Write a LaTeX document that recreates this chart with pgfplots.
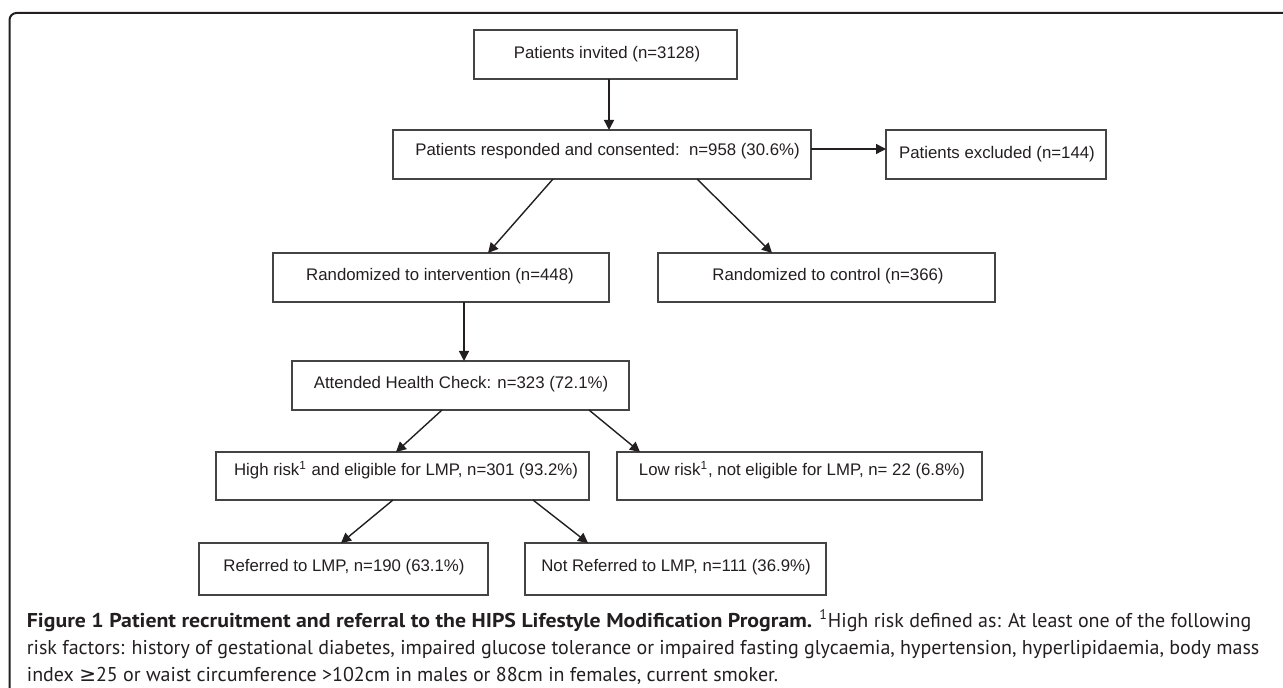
\documentclass[border=0pt]{standalone}
\usepackage{fontspec}
\usepackage{pgfplots}
\pgfplotsset{compat=1.18}
\usetikzlibrary{arrows.meta}
\setmainfont{Liberation Sans}
\newfontfamily\capfont[BoldFeatures={FakeStretch=1.09}]{PT Sans}
\newfontfamily\symfont{DejaVu Sans}
\definecolor{ink}{HTML}{231F20}
\definecolor{boxc}{HTML}{444444}
\tikzset{
  bx/.style={draw=boxc, line width=0.75pt, mark=none, line join=miter},
  arr/.style={draw=ink, line width=0.7pt, mark=none, -{Triangle[length=5pt,width=5pt]}},
  bt/.style={font=\fontsize{8.4pt}{10pt}\selectfont, text=ink, inner sep=0pt},
  ct/.style={font=\capfont\fontsize{10pt}{13pt}\selectfont, text=ink, inner sep=0pt, anchor=base west},
}
\begin{document}
\begin{tikzpicture}
\begin{axis}[
  width=641.5pt, height=344pt, scale only axis, hide axis,
  xmin=0, xmax=1283, ymin=0, ymax=688, y dir=reverse,
  clip=false, at={(0,0)}, anchor=south west,
]
\coordinate (BL) at (axis cs:0,688);
\coordinate (TR) at (axis cs:1283,0);
% outer frame
\draw[ink, line width=1pt, rounded corners=3.5pt] (axis cs:9.5,720) -- (axis cs:9.5,13) -- (axis cs:1300,13);
% boxes
\addplot[bx] coordinates {(474,30) (737,30) (737,79) (474,79)} -- cycle;
\addplot[bx] coordinates {(393,130) (811,130) (811,179) (393,179)} -- cycle;
\addplot[bx] coordinates {(886,130) (1106,130) (1106,179) (886,179)} -- cycle;
\addplot[bx] coordinates {(273,253) (609,253) (609,302) (273,302)} -- cycle;
\addplot[bx] coordinates {(658,253) (995,253) (995,302) (658,302)} -- cycle;
\addplot[bx] coordinates {(292,361) (629,361) (629,410) (292,410)} -- cycle;
\addplot[bx] coordinates {(216,452) (589,452) (589,500) (216,500)} -- cycle;
\addplot[bx] coordinates {(617,452) (982,452) (982,500) (617,500)} -- cycle;
\addplot[bx] coordinates {(199,543) (488,543) (488,595) (199,595)} -- cycle;
\addplot[bx] coordinates {(525,543) (826,543) (826,595) (525,595)} -- cycle;
% arrows
\addplot[arr] coordinates {(609,79) (609,130)};
\addplot[arr] coordinates {(811,149) (886,149)};
\addplot[arr] coordinates {(553,179) (488,253)};
\addplot[arr] coordinates {(697,179) (772,253)};
\addplot[arr] coordinates {(464,302) (464,361)};
\addplot[arr] coordinates {(442,410) (396,452)};
\addplot[arr] coordinates {(589,410) (640,452)};
\addplot[arr] coordinates {(393,500) (341,543)};
\addplot[arr] coordinates {(533,500) (588,543)};
% box texts
\node[bt] at (axis cs:607,54.5) {Patients invited (n=3128)};
\node[bt, anchor=west] at (axis cs:415,151) {Patients responded and consented:\ \ n=958 (30.6\%)};
\node[bt] at (axis cs:997,154.5) {Patients excluded (n=144)};
\node[bt] at (axis cs:440,276) {Randomized to intervention (n=448)};
\node[bt] at (axis cs:828,276) {Randomized to control (n=366)};
\node[bt] at (axis cs:461,384) {Attended Health Check: n=323 (72.1\%)};
\node[bt] at (axis cs:406,470) {High risk\textsuperscript{1} and eligible for LMP, n=301 (93.2\%)};
\node[bt] at (axis cs:802,470) {Low risk\textsuperscript{1}, not eligible for LMP, n= 22 (6.8\%)};
\node[bt] at (axis cs:344,567) {Referred to LMP, n=190 (63.1\%)};
\node[bt] at (axis cs:676,567) {Not Referred to LMP, n=111 (36.9\%)};
% caption
\node[ct] at (axis cs:26.5,627) {\textbf{Figure 1 Patient recruitment and referral to the HIPS Lifestyle Modification Program.} \textsuperscript{1}High risk defined as: At least one of the following};
\node[ct] at (axis cs:26.5,654) {risk factors: history of gestational diabetes, impaired glucose tolerance or impaired fasting glycaemia, hypertension, hyperlipidaemia, body mass};
\node[ct] at (axis cs:26.5,681) {index {\symfont ≥}25 or waist circumference >102cm in males or 88cm in females, current smoker.};
\end{axis}
\pgfresetboundingbox
\path (BL) rectangle (TR);
\end{tikzpicture}
\end{document}
